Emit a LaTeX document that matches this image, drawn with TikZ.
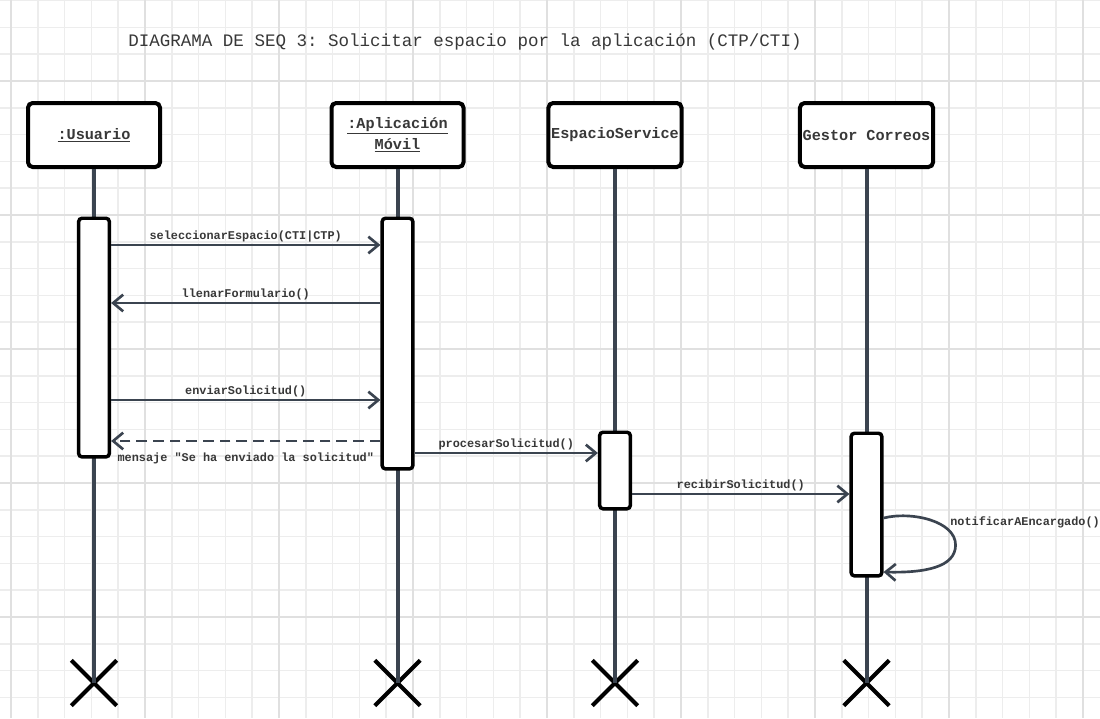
\documentclass[tikz,border=0pt]{standalone}
\usepackage{fontspec}
\setmonofont{Liberation Mono}
\usetikzlibrary{arrows.meta,shapes.misc}
\definecolor{gridminor}{HTML}{EDEDED}
\definecolor{gridmajor}{HTML}{E0E0E0}
\definecolor{wire}{HTML}{3B4450}
\definecolor{ink}{HTML}{383838}
\begin{document}
\begin{tikzpicture}[x=0.75pt,y=-0.75pt,
  head/.style={draw=black, line width=3pt, rounded corners=3.5pt, fill=white,
    minimum width=99pt, minimum height=48pt, align=center, inner sep=2pt,
    font=\ttfamily\bfseries\fontsize{11.4}{15.75}\selectfont, text=ink},
  life/.style={draw=wire, line width=3pt},
  actbar/.style={draw=black, line width=2.6pt, rounded corners=2.5pt, fill=white,
    minimum width=23pt, anchor=north, inner sep=0pt},
  msg/.style={draw=wire, line width=2pt, -{Straight Barb[length=7.5pt,width=12.5pt]}},
  reply/.style={msg, dash pattern=on 8pt off 4.5pt},
  lbl/.style={font=\ttfamily\bfseries\fontsize{8.9}{10}\selectfont, text=ink, inner sep=0pt},
  endx/.style={cross out, draw=black, line width=3pt, minimum size=31pt, inner sep=0pt},
]
% page and squared paper
\useasboundingbox (0,0) rectangle (1100,718);
\fill[white] (0,0) rectangle (1100,718);
\foreach \k in {0,...,40}
  \draw[gridminor, line width=1.1pt] ({11+26.8*\k},0) -- ({11+26.8*\k},718);
\foreach \k in {0,...,26}
  \draw[gridminor, line width=1.1pt] (0,{0.6+26.8*\k}) -- (1100,{0.6+26.8*\k});
\foreach \k in {0,5,...,40}
  \draw[gridmajor, line width=1.2pt] ({11+26.8*\k},0) -- ({11+26.8*\k},718);
\foreach \k in {3,8,...,23}
  \draw[gridmajor, line width=1.2pt] (0,{0.6+26.8*\k}) -- (1100,{0.6+26.8*\k});

% title
\node[anchor=west, inner sep=0pt, text=ink,
  font=\ttfamily\fontsize{13.15}{15}\selectfont] (title) at (128,42)
  {DIAGRAMA DE SEQ 3: Solicitar espacio por la aplicación (CTP/CTI)};

% participants
\node[head] (usr) at (94,135) {\underline{:Usuario}};
\node[head] (app) at (397.5,135) {\underline{:Aplicación}\\\underline{Móvil}};
\node[head] (esp) at (615,135) {EspacioService};
\node[head] (ges) at (866.5,135) {Gestor Correos};

% destruction marks
\node[endx] (xu) at (94,683) {};
\node[endx] (xa) at (397.5,683) {};
\node[endx] (xe) at (615,683) {};
\node[endx] (xg) at (866.5,683) {};

% lifelines
\draw[life] (usr.south) -- (xu.center);
\draw[life] (app.south) -- (xa.center);
\draw[life] (esp.south) -- (xe.center);
\draw[life] (ges.south) -- (xg.center);

% activation bars
\node[actbar, minimum height=179pt] (ubar) at (94,216.5) {};
\node[actbar, minimum height=188pt] (abar) at (397.5,216.5) {};
\node[actbar, minimum height=57.4pt] (ebar) at (615,430.5) {};
\node[actbar, minimum height=107pt] (gbar) at (866.5,431.5) {};

% message rows
\coordinate (r1) at (0,245);
\coordinate (r2) at (0,303);
\coordinate (r3) at (0,400);
\coordinate (r4) at (0,441);
\coordinate (r5) at (0,453);
\coordinate (r6) at (0,494);
\coordinate (r7) at (0,518);
\coordinate (r8) at (0,572);

% messages
\draw[msg] (ubar.east |- r1) -- node[lbl, midway, anchor=base, yshift=4.5pt]
  {seleccionarEspacio(CTI|CTP)} (abar.west |- r1);
\draw[msg] (abar.west |- r2) -- node[lbl, midway, anchor=base, yshift=4.5pt]
  {llenarFormulario()} (ubar.east |- r2);
\draw[msg] (ubar.east |- r3) -- node[lbl, midway, anchor=base, yshift=4.5pt]
  {enviarSolicitud()} (abar.west |- r3);
\draw[reply] (abar.west |- r4) -- node[lbl, midway, anchor=base, yshift=-15.4pt]
  {mensaje "Se ha enviado la solicitud"} (ubar.east |- r4);
\draw[msg] (abar.east |- r5) -- node[lbl, midway, anchor=base, yshift=4.5pt]
  {procesarSolicitud()} (ebar.west |- r5);
\draw[msg] (ebar.east |- r6) -- node[lbl, midway, anchor=base, yshift=4.5pt]
  {recibirSolicitud()} (gbar.west |- r6);

% self call
\draw[msg] (gbar.east |- r7) .. controls +(28,-7) and +(0,-24) .. ++(72,27)
  .. controls +(0,22) and +(42,1) .. (gbar.east |- r8);
\node[lbl, anchor=base west] (lself) at (950,525.5) {notificarAEncargado()};
\end{tikzpicture}
\end{document}
